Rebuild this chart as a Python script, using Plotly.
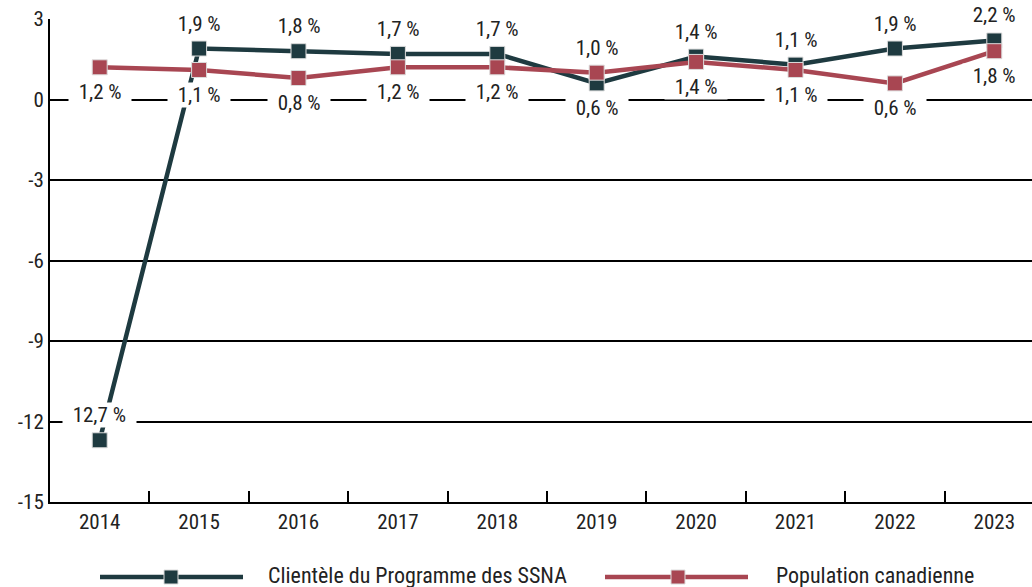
import plotly.graph_objects as go

years = [2014, 2015, 2016, 2017, 2018, 2019, 2020, 2021, 2022, 2023]
ssna = [-12.7, 1.9, 1.8, 1.7, 1.7, 0.6, 1.6, 1.3, 1.9, 2.2]
canada = [1.2, 1.1, 0.8, 1.2, 1.2, 1.0, 1.4, 1.1, 0.6, 1.8]
ssna_labels = ["12,7 %", "1,9 %", "1,8 %", "1,7 %", "1,7 %", "0,6 %", "1,4 %", "1,1 %", "1,9 %", "2,2 %"]
canada_labels = ["1,2 %", "1,1 %", "0,8 %", "1,2 %", "1,2 %", "1,0 %", "1,4 %", "1,1 %", "0,6 %", "1,8 %"]
ssna_pos = ["above"] * 5 + ["below"] + ["above"] * 4
canada_pos = ["below"] * 5 + ["above"] + ["below"] * 4
series_names = ["Clientèle du Programme des SSNA", "Population canadienne"]
y_ticks = [-15, -12, -9, -6, -3, 0, 3]

DARK = "#1e3a40"
RED = "#a84652"
FONT = "Roboto Condensed, Liberation Sans Narrow, DejaVu Sans Condensed, sans-serif"

fig = go.Figure()
for name, vals, col in [(series_names[0], ssna, DARK), (series_names[1], canada, RED)]:
    fig.add_trace(go.Scatter(
        x=years, y=vals, name=name, mode="lines+markers",
        line=dict(color=col, width=4.5),
        marker=dict(symbol="square", size=15, color=col, line=dict(color="#dcdcdc", width=1)),
        showlegend=False, cliponaxis=False,
    ))

# data labels (white box interrupts the gridlines, as in the original)
PAD = "&nbsp;&nbsp;"
for vals, labels, pos in [(ssna, ssna_labels, ssna_pos), (canada, canada_labels, canada_pos)]:
    for x, v, t, p in zip(years, vals, labels, pos):
        fig.add_annotation(
            x=x, y=v, text=PAD + t + PAD, showarrow=False, xref="x", yref="y",
            yshift=25 if p == "above" else -25,
            font=dict(family=FONT, size=21, color="#222"),
            bgcolor="white", borderpad=0,
        )

# manual legend
L, R, T, B = 50, 1032, 19, 502
def px(xp):
    return (xp - L) / (R - L)
def py(yp):
    return (B - yp) / (B - T)

leg_y = 577
for (x0, x1, xm, tx), name, col in [((100, 243, 171, 266), series_names[0], DARK),
                                     ((605, 748, 678, 774), series_names[1], RED)]:
    fig.add_shape(type="line", xref="paper", yref="paper", x0=px(x0), x1=px(x1),
                  y0=py(leg_y), y1=py(leg_y), line=dict(color=col, width=4.5))
    fig.add_shape(type="rect", xref="paper", yref="paper", x0=px(xm - 7), x1=px(xm + 7),
                  y0=py(leg_y + 7), y1=py(leg_y - 7), fillcolor=col, line=dict(color="#dcdcdc", width=1))
    fig.add_annotation(xref="paper", yref="paper", x=px(tx), y=py(leg_y - 2), text=name,
                       showarrow=False, xanchor="left", yanchor="middle",
                       font=dict(family=FONT, size=22, color="#222"))

fig.update_layout(
    width=1032, height=587,
    margin=dict(l=L, r=0, t=T, b=587 - B),
    paper_bgcolor="white", plot_bgcolor="white",
    font=dict(family=FONT, size=21, color="#222"),
    showlegend=False,
    xaxis=dict(
        range=[2013.5, 2013.5 + (R - L) / 99.4], tickvals=years, ticktext=[str(y) for y in years],
        ticks="", showgrid=False, zeroline=False, showline=True, linecolor="black", linewidth=2,
        tickfont=dict(family=FONT, size=21),
        minor=dict(tickmode="array", tickvals=[y + 0.5 for y in years[:-1]], ticks="inside",
                   ticklen=11, tickwidth=2, tickcolor="black", showgrid=False),
    ),
    yaxis=dict(
        range=[-15, 3], tickvals=y_ticks, ticktext=[str(v) for v in y_ticks],
        showgrid=True, gridcolor="black", gridwidth=2, zeroline=False,
        showline=True, linecolor="black", linewidth=2, ticks="",
        tickfont=dict(family=FONT, size=21),
    ),
)

fig.write_html("out.html", config={"displayModeBar": False},
               post_script="document.body.style.margin='0';document.body.style.overflow='hidden';")
